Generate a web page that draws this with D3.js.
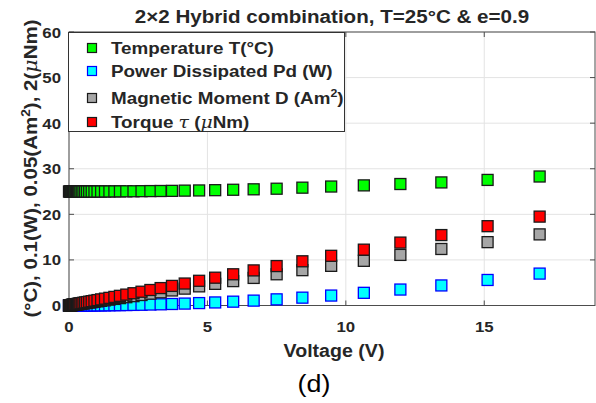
<!DOCTYPE html>
<html><head><meta charset="utf-8">
<script src="https://cdn.jsdelivr.net/npm/d3@7"></script>
<style>body{margin:0;background:#fff}svg{display:block}</style>
</head><body>
<svg id="c" width="596" height="403"></svg>
<script>
// ---- data ----
const voltage = [0, 0.02, 0.04, 0.06, 0.08, 0.1, 0.12, 0.14, 0.16, 0.18,
  0.2, 0.23, 0.26, 0.29, 0.33, 0.37, 0.41, 0.46, 0.52, 0.58,
  0.65, 0.73, 0.82, 0.92, 1.03, 1.16, 1.3, 1.46, 1.64, 1.84,
  2.07, 2.33, 2.62, 2.94, 3.31, 3.72, 4.18, 4.7, 5.28, 5.93,
  6.67, 7.5, 8.43, 9.47, 10.65, 11.97, 13.45, 15.12, 17.0];
const temperature = [25, 25, 25, 25, 25, 25, 25, 25, 25, 25,
  25, 25, 25, 25, 25, 25, 25, 25, 25, 25,
  25, 25, 25, 25, 25.01, 25.01, 25.02, 25.02, 25.03, 25.04,
  25.05, 25.06, 25.08, 25.1, 25.12, 25.15, 25.2, 25.24, 25.3, 25.39,
  25.49, 25.62, 25.85, 26.1, 26.35, 26.65, 27.0, 27.55, 28.3];
const power = [0, 0, 0, 0, 0, 0, 0, 0, 0, 0.001,
  0.001, 0.001, 0.002, 0.002, 0.003, 0.003, 0.004, 0.005, 0.006, 0.008,
  0.01, 0.013, 0.016, 0.02, 0.025, 0.032, 0.04, 0.05, 0.065, 0.08,
  0.1, 0.13, 0.16, 0.21, 0.26, 0.33, 0.42, 0.53, 0.67, 0.84,
  1.07, 1.35, 1.72, 2.18, 2.78, 3.5, 4.4, 5.6, 7.0];
const moment = [0, 0.02, 0.04, 0.05, 0.07, 0.09, 0.11, 0.12, 0.14, 0.16,
  0.18, 0.2, 0.23, 0.26, 0.29, 0.33, 0.36, 0.4, 0.46, 0.51,
  0.57, 0.64, 0.72, 0.81, 0.9, 1.02, 1.14, 1.28, 1.44, 1.62,
  1.82, 2.05, 2.3, 2.6, 2.9, 3.3, 3.7, 4.2, 4.75, 5.35,
  6.05, 6.85, 7.75, 8.7, 9.8, 11.1, 12.4, 13.9, 15.6];
const torque = [0, 0.02, 0.05, 0.07, 0.09, 0.12, 0.14, 0.16, 0.18, 0.21,
  0.23, 0.26, 0.3, 0.33, 0.38, 0.43, 0.47, 0.53, 0.6, 0.67,
  0.75, 0.84, 0.95, 1.06, 1.19, 1.34, 1.5, 1.68, 1.89, 2.12,
  2.39, 2.69, 3.02, 3.4, 3.82, 4.3, 4.82, 5.42, 6.1, 6.85,
  7.7, 8.65, 9.7, 10.9, 12.25, 13.8, 15.45, 17.4, 19.5];
const xTicks = [0, 5, 10, 15];
const yTicks = [0, 10, 20, 30, 40, 50, 60];
const seriesNames = ["Temperature T(°C)", "Power Dissipated Pd (W)", "Magnetic Moment D (Am²)", "Torque τ (μNm)"];
const fills = ["#00ff00", "#00ffff", "#a6a6a6", "#ff0000"];
const edges = ["#1a1a1a", "#0000ff", "#1a1a1a", "#1a1a1a"];

// ---- drawing ----
const svg = d3.select("#c");
const x = d3.scaleLinear([0, 19], [69, 595]);
const y = d3.scaleLinear([0, 60], [305.5, 32]);
const SX = 1.12;
const FONT = "'Liberation Sans', Arial, Helvetica, sans-serif";
const SERIF = "'DejaVu Serif', 'Liberation Serif', serif";

// grid
const grid = svg.append("g").attr("stroke", "#e3e3e3").attr("stroke-width", 1);
xTicks.forEach(t => grid.append("line").attr("x1", x(t)).attr("x2", x(t)).attr("y1", y(0)).attr("y2", y(60)));
yTicks.forEach(t => grid.append("line").attr("y1", y(t)).attr("y2", y(t)).attr("x1", x(0)).attr("x2", x(19)));

// axes box and ticks
const axG = svg.append("g");
const axColor = "#4d4d4d";
axG.append("rect").attr("x", x(0)).attr("y", y(60)).attr("width", x(19) - x(0)).attr("height", y(0) - y(60))
  .attr("fill", "none").attr("stroke", axColor).attr("stroke-width", 1);
const tl = 5;
xTicks.forEach(t => {
  axG.append("line").attr("x1", x(t)).attr("x2", x(t)).attr("y1", y(0)).attr("y2", y(0) - tl).attr("stroke", axColor);
  axG.append("line").attr("x1", x(t)).attr("x2", x(t)).attr("y1", y(60)).attr("y2", y(60) + tl).attr("stroke", axColor);
});
yTicks.forEach(t => {
  axG.append("line").attr("x1", x(0)).attr("x2", x(0) + tl).attr("y1", y(t)).attr("y2", y(t)).attr("stroke", axColor);
  axG.append("line").attr("x1", x(19)).attr("x2", x(19) - tl).attr("y1", y(t)).attr("y2", y(t)).attr("stroke", axColor);
});

function stext(g, tx, ty, size, anchor, weight) {
  return g.append("text").attr("transform", `translate(${tx},${ty}) scale(${SX},1)`)
    .attr("font-family", FONT).attr("font-size", size).attr("font-weight", weight || "bold")
    .attr("text-anchor", anchor).attr("fill", "#262626");
}
xTicks.forEach(t => stext(svg, x(t), 332, 15, "middle").text(t));
yTicks.forEach(t => stext(svg, 61, y(t) + 5.5, 15, "end").text(t));

// data
const series = [temperature, power, moment, torque];
const S = 11;
series.forEach((vals, i) => {
  svg.append("g").selectAll("rect").data(voltage.map((v, j) => [v, vals[j]])).join("rect")
    .attr("x", d => x(d[0]) - S / 2).attr("y", d => y(d[1]) - S / 2)
    .attr("width", S).attr("height", S)
    .attr("fill", fills[i]).attr("stroke", edges[i]).attr("stroke-width", 1.3);
});

// title
stext(svg, 332, 23, 18.4, "middle").text("2×2 Hybrid combination, T=25°C & e=0.9");

// x label
stext(svg, 334, 357, 17.5, "middle").text("Voltage (V)");

// y label
const yl = svg.append("text").attr("transform", `translate(37,168.5) rotate(-90) scale(1.14,1)`)
  .attr("font-family", FONT).attr("font-size", 18).attr("font-weight", "bold")
  .attr("text-anchor", "middle").attr("fill", "#262626");
yl.append("tspan").text("(°C), 0.1(W), 0.05(Am");
yl.append("tspan").attr("font-size", 12).attr("dy", -7).text("2");
yl.append("tspan").attr("dy", 7).text("), 2(");
yl.append("tspan").attr("font-family", SERIF).attr("font-style", "italic").attr("font-weight", "normal").text("μ");
yl.append("tspan").text("Nm)");

// (d)
svg.append("text").attr("transform", `translate(314,392) scale(${SX},1)`)
  .attr("font-family", FONT).attr("font-size", 24).attr("text-anchor", "middle").attr("fill", "#000").text("(d)");

// legend
const lg = svg.append("g");
lg.append("rect").attr("x", 68.5).attr("y", 32.5).attr("width", 276).attr("height", 99)
  .attr("fill", "#fff").attr("stroke", "#333").attr("stroke-width", 1);
const rows = [48, 71, 98, 122];
rows.forEach((ry, i) => {
  lg.append("rect").attr("x", 92 - 4.5).attr("y", ry - 4.5).attr("width", 9).attr("height", 9)
    .attr("fill", fills[i]).attr("stroke", edges[i]).attr("stroke-width", 1.2);
  const t = stext(lg, 111, ry + 6, 16.8, "start");
  if (i === 2) {
    t.append("tspan").text("Magnetic Moment D (Am");
    t.append("tspan").attr("font-size", 11).attr("dy", -7).text("2");
    t.append("tspan").attr("dy", 7).text(")");
  } else if (i === 3) {
    t.append("tspan").text("Torque ");
    t.append("tspan").attr("font-family", SERIF).attr("font-style", "italic").attr("font-weight", "normal").text("τ");
    t.append("tspan").text(" (");
    t.append("tspan").attr("font-family", SERIF).attr("font-style", "italic").attr("font-weight", "normal").text("μ");
    t.append("tspan").text("Nm)");
  } else {
    t.text(seriesNames[i]);
  }
});
</script>
</body></html>
